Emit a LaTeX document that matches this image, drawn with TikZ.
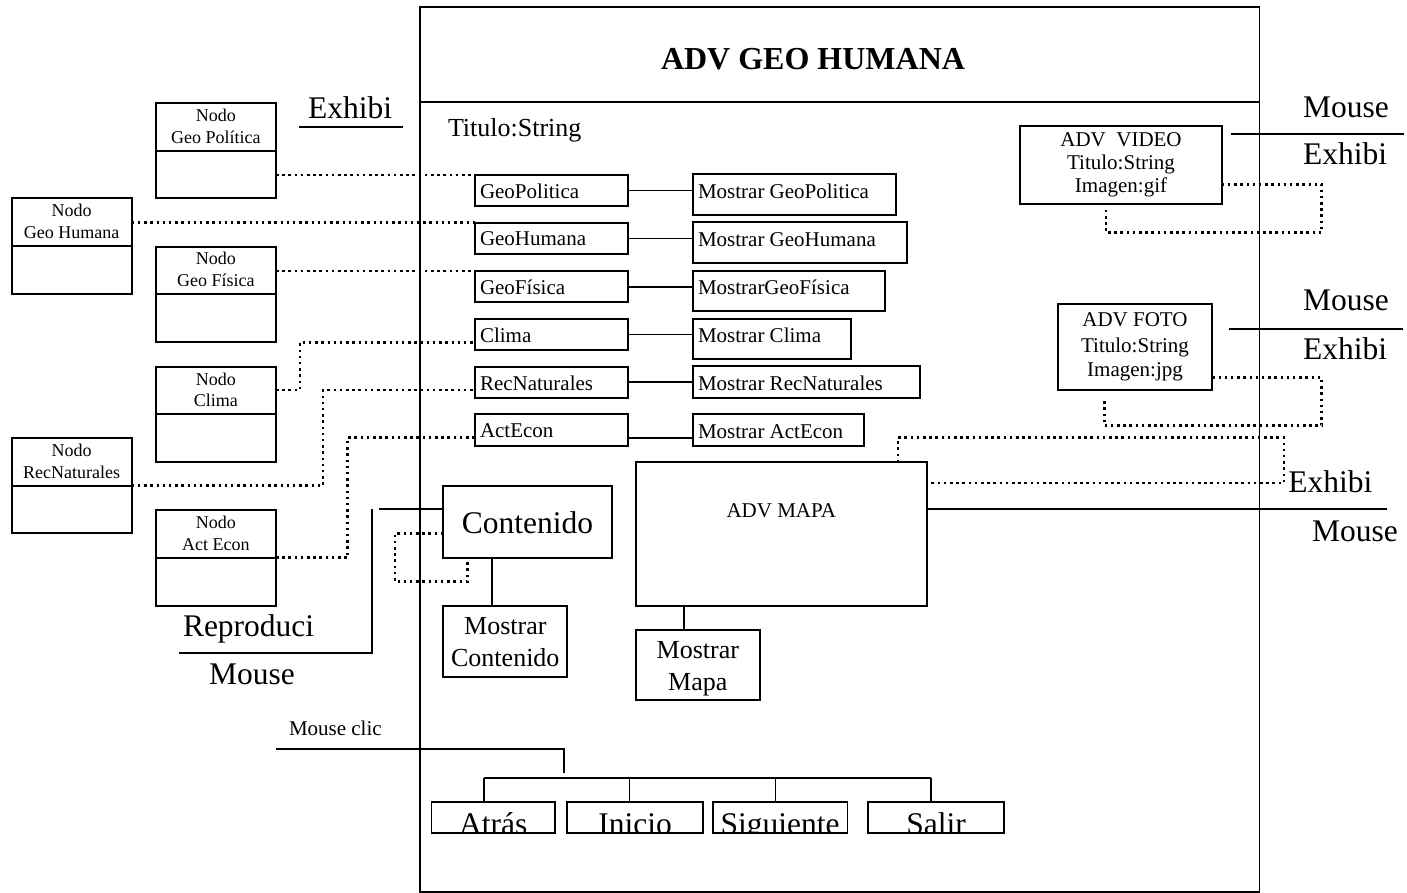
\documentclass[tikz,border=0pt]{standalone}
\usepackage{fontspec}
\setmainfont{Liberation Serif}
\usetikzlibrary{fit}
\newcommand\fsz[2]{\fontsize{#1}{#2}\selectfont}
\tikzset{
  x=1pt, y=-1pt,
  ln/.style={line width=1.9pt},
  bxs/.style={draw, line width=1.9pt, inner sep=0pt, outer sep=0pt},
  dots/.style={line width=2.5pt, dash pattern=on 2.5pt off 3.7pt},
  tx/.style={inner sep=0pt, outer sep=0pt},
  big/.style={tx, font=\fsz{31.5}{36}},
  mid/.style={tx, font=\fsz{21}{25}},
  small/.style={tx, font=\fsz{18}{22}},
}
% plain box: name, x1, y1, x2, y2
\newcommand\bx[5]{\node[bxs, fit={(#2,#3) (#4,#5)}] (#1) {};}
% two-compartment class box: name, x1, y1, ydiv, x2, y2, line1, line2
\newcommand\umlbox[8]{%
  \node[bxs, fit={(#2,#3) (#5,#6)}] (#1) {};
  \draw[ln] (#2,#4) -- (#5,#4);
  \node[small, anchor=base] (#1-a) at ({(#2+#5)/2},{#4-29}) {#7};
  \node[small, anchor=base] (#1-b) at ({(#2+#5)/2},{#4-7.5}) {#8};
}
\begin{document}
\begin{tikzpicture}
\useasboundingbox (0,0) rectangle (1407,893);

% outer frame with title compartment
\bx{frame}{420}{7}{1259.5}{891.7}
\draw[ln] (420,101.7) -- (1259.5,101.7);
\node[tx, font=\bfseries\fsz{32}{38}, anchor=base] (title) at (813,70) {ADV GEO HUMANA};
\node[tx, font=\fsz{26}{30}, anchor=base west] (titulo) at (448,136.5) {Titulo:String};

% class nodes on the left
\umlbox{ngp}{155.7}{102.7}{151}{276}{198}{Nodo}{Geo Política}
\umlbox{ngh}{11.7}{198}{246}{131.7}{294}{Nodo}{Geo Humana}
\umlbox{ngf}{155.7}{246.7}{294}{276}{341.7}{Nodo}{Geo Física}
\umlbox{ncl}{155.7}{366.7}{414}{276}{461.7}{Nodo}{Clima}
\umlbox{nrn}{11.7}{438}{485.7}{131.7}{533}{Nodo}{RecNaturales}
\umlbox{nae}{155.7}{510}{557.7}{276}{605.7}{Nodo}{Act Econ}

% attribute boxes
\bx{gp}{475}{175}{628.3}{206}
\bx{gh}{475}{222.7}{628.3}{254.3}
\bx{gf}{475}{271}{628.3}{302.3}
\bx{cl}{475}{319}{628.3}{350}
\bx{rn}{475}{366.7}{628.3}{397.7}
\bx{ae}{475}{414.3}{628.3}{445.7}
\node[mid, anchor=base west] (gp-t) at (480,198.3) {GeoPolitica};
\node[mid, anchor=base west] (gh-t) at (480,246) {GeoHumana};
\node[mid, anchor=base west] (gf-t) at (480,294.3) {GeoFísica};
\node[mid, anchor=base west] (cl-t) at (480,342.3) {Clima};
\node[mid, anchor=base west] (rn-t) at (480,390) {RecNaturales};
\node[mid, anchor=base west] (ae-t) at (480,437.6) {ActEcon};

% method boxes
\bx{mgp}{692.7}{174.3}{896}{215}
\bx{mgh}{692.7}{222.3}{907.3}{263.3}
\bx{mgf}{692.7}{270.7}{885}{311}
\bx{mcl}{692.7}{318.7}{850.7}{359.3}
\bx{mrn}{692.7}{366}{920}{397.7}
\bx{mae}{692.7}{414.3}{864}{445.7}
\node[mid, anchor=base west] (mgp-t) at (698,198.3) {Mostrar GeoPolitica};
\node[mid, anchor=base west] (mgh-t) at (698,246.3) {Mostrar GeoHumana};
\node[mid, anchor=base west] (mgf-t) at (698,294.5) {MostrarGeoFísica};
\node[mid, anchor=base west] (mcl-t) at (698,342.5) {Mostrar Clima};
\node[mid, anchor=base west] (mrn-t) at (698,390) {Mostrar RecNaturales};
\node[mid, anchor=base west] (mae-t) at (698,438) {Mostrar ActEcon};

\draw[ln] (gp.east) -- (gp.east -| mgp.west);
\draw[ln] (gh.east) -- (gh.east -| mgh.west);
\draw[ln] (gf.east) -- (gf.east -| mgf.west);
\draw[ln] (cl.east) -- (cl.east -| mcl.west);
\draw[ln] (rn.east) -- (rn.east -| mrn.west);
\coordinate (aey) at (0,437.7);
\draw[ln] (ae.east |- aey) -- (aey -| mae.west);

% dotted links from the class nodes
\draw[dots] (ngp.east |- gp.north west) -- (gp.north west);
\draw[dots] (ngh.east |- gh.north west) -- (gh.north west);
\draw[dots] (ngf.east |- gf.north west) -- (gf.north west);
\coordinate (k1) at (300,390); \coordinate (k2) at (300,342.3);
\draw[dots] (ncl.east |- k1) -- (k1) -- (k2) -- (k2 -| cl.west);
\coordinate (r1) at (323,485.7); \coordinate (r2) at (323,390);
\draw[dots] (nrn.east |- r1) -- (r1) -- (r2) -- (r2 -| rn.west);
\coordinate (a1) at (347.7,557.7); \coordinate (a2) at (347.7,437.7);
\draw[dots] (nae.east |- a1) -- (a1) -- (a2) -- (a2 -| ae.west);

% top-left event label
\begin{scope}
  \clip (290,80) rectangle (410,119.3);
  \node[big, anchor=base west] (ex0) at (308,119) {Exhibi};
\end{scope}
\draw[ln] (299.3,126.7) -- (403.3,126.7);

% content block
\bx{cont}{443.3}{486}{611.7}{558.3}
\node[big, anchor=base] (cont-t) at (527.5,533.3) {Contenido};
\bx{mcont}{443.3}{606}{567.3}{676.7}
\node[tx, font=\fsz{26}{30}, anchor=base] (mcont-a) at (505.3,634) {Mostrar};
\node[tx, font=\fsz{26}{30}, anchor=base] (mcont-b) at (505.3,666) {Contenido};
\coordinate (cx) at (491.7,0);
\draw[ln] (cont.south -| cx) -- (mcont.north -| cx);
\coordinate (cl1) at (395,533.3); \coordinate (cl2) at (467.3,581.7);
\draw[dots] (cl1 -| cont.west) -- (cl1) |- (cl2) -- (cl2 |- cont.south);
\coordinate (rp1) at (379.3,509.3);
\draw[ln] (rp1) -- (rp1 -| cont.west);
\coordinate (rp2) at (371.7,509.3); \coordinate (rp3) at (179.3,653.3);
\draw[ln] (rp2) |- (rp3);
\node[big, anchor=base west] (repro) at (183,636.7) {Reproduci};
\node[big, anchor=base west] (mouse-l) at (209,684) {Mouse};

% map block
\bx{mapa}{635.7}{462.3}{926.7}{605.7}
\node[mid, anchor=base] (mapa-t) at (781.3,517.3) {ADV MAPA};
\bx{mmapa}{635.7}{630}{760}{700}
\node[tx, font=\fsz{26}{30}, anchor=base] (mmapa-a) at (697.8,658) {Mostrar};
\node[tx, font=\fsz{26}{30}, anchor=base] (mmapa-b) at (697.8,690) {Mapa};
\coordinate (mx) at (684,0);
\draw[ln] (mapa.south -| mx) -- (mmapa.north -| mx);
\coordinate (p1) at (898,437.7); \coordinate (p2) at (1284,483);
\draw[dots] (mapa.north -| p1) -- (p1) -| (p2) -- (p2 -| mapa.east);
\coordinate (p3) at (1387.3,509.3);
\draw[ln] (mapa.east |- p3) -- (p3);
\begin{scope}
  \clip (1280,455) rectangle (1400,492.6);
  \node[big, anchor=base west] (ex3) at (1288.3,492.3) {Exhibi};
\end{scope}
\node[big, anchor=base west] (mouse-3) at (1312,541) {Mouse};

% video object
\bx{vid}{1020}{126}{1221.7}{204.3}
\node[mid, anchor=base] (vid-a) at (1121,146.7) {ADV\ \ VIDEO};
\node[mid, anchor=base] (vid-b) at (1121,170) {Titulo:String};
\node[mid, anchor=base] (vid-c) at (1121,192.5) {Imagen:gif};
\coordinate (v1) at (1321.7,184.3); \coordinate (v2) at (1106,232.7); \coordinate (v3) at (1106,208.3);
\draw[dots] (vid.east |- v1) -- (v1) |- (v2) -- (v3);
\node[big, anchor=base west] (mouse-1) at (1303,118) {Mouse};
\draw[ln] (1230.7,134.3) -- (1404,134.3);
\begin{scope}
  \clip (1295,137) rectangle (1400,165);
  \node[big, anchor=base west] (ex1) at (1303,164.7) {Exhibi};
\end{scope}

% photo object
\bx{foto}{1057.7}{304.3}{1212.3}{390}
\node[mid, anchor=base] (foto-a) at (1135,326.7) {ADV FOTO};
\node[mid, anchor=base] (foto-b) at (1135,352) {Titulo:String};
\node[mid, anchor=base] (foto-c) at (1135,376.7) {Imagen:jpg};
\coordinate (f1) at (1321.7,377.7); \coordinate (f2) at (1104.3,425.7); \coordinate (f3) at (1104.3,400.7);
\draw[dots] (foto.east |- f1) -- (f1) |- (f2) -- (f3);
\node[big, anchor=base west] (mouse-2) at (1303,310.7) {Mouse};
\draw[ln] (1229.3,329) -- (1403.3,329);
\begin{scope}
  \clip (1295,332) rectangle (1400,359.3);
  \node[big, anchor=base west] (ex2) at (1303,359) {Exhibi};
\end{scope}

% navigation buttons
\node[mid, anchor=base west] (clic) at (289,735) {Mouse clic};
\coordinate (mc1) at (275.5,749.3); \coordinate (mc2) at (564,773.3);
\draw[ln] (mc1) -| (mc2);
\coordinate (d1) at (484,777.7); \coordinate (d2) at (629.5,777.7);
\coordinate (d3) at (775.5,777.7); \coordinate (d4) at (931,777.7);
\draw[ln] (d1) -- (d4);
\begin{scope}
  \clip (420,795) rectangle (1010,832.5);
  \node[big, anchor=base] (b1-t) at (493.3,834.5) {Atrás};
  \node[big, anchor=base] (b2-t) at (635,834.5) {Inicio};
  \node[big, anchor=base] (b3-t) at (780.2,834.5) {Siguiente};
  \node[big, anchor=base] (b4-t) at (936,834.5) {Salir};
\end{scope}
\bx{b1}{431.5}{801.7}{555}{833.3}
\bx{b2}{567}{801.7}{703}{833.3}
\bx{b3}{713}{801.7}{847.5}{833.3}
\bx{b4}{868}{801.7}{1004}{833.3}
\draw[ln] (d1) -- (d1 |- b1.north);
\draw[ln] (d2) -- (d2 |- b2.north);
\draw[ln] (d3) -- (d3 |- b3.north);
\draw[ln] (d4) -- (d4 |- b4.north);
\end{tikzpicture}
\end{document}
